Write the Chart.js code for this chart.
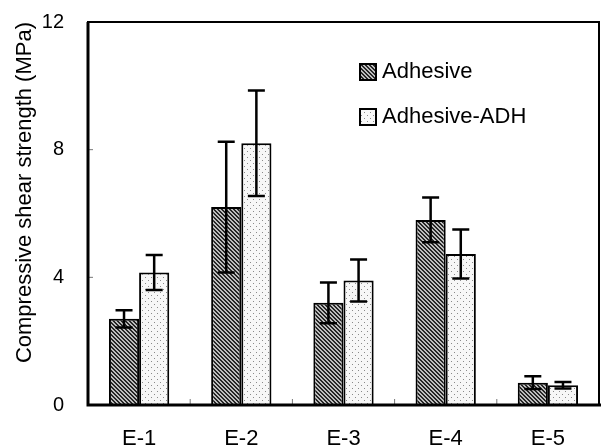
<!DOCTYPE html>
<html>
<head>
<meta charset="utf-8">
<script src="https://cdn.jsdelivr.net/npm/chart.js@4/dist/chart.umd.min.js"></script>
<style>
  html, body { margin: 0; padding: 0; background: #fff; }
  #wrap { width: 601px; height: 447px; }
</style>
</head>
<body>
<div id="wrap"><canvas id="chart"></canvas></div>
<script>
const categories = ['E-1', 'E-2', 'E-3', 'E-4', 'E-5'];
const adhesive = [2.7, 6.2, 3.2, 5.8, 0.7];
const adhesiveErr = [0.27, 2.05, 0.64, 0.7, 0.2];
const adhesiveAdh = [4.15, 8.2, 3.9, 4.73, 0.62];
const adhesiveAdhErr = [0.55, 1.65, 0.66, 0.77, 0.1];
const yMin = 0, yMax = 12, yStep = 4;

const FONT = '"Liberation Sans", Arial, sans-serif';

// hatch pattern for Adhesive
function hatchPattern() {
  const c = document.createElement('canvas');
  c.width = 4; c.height = 4;
  const g = c.getContext('2d');
  g.fillStyle = '#bdbdbd';
  g.fillRect(0, 0, 4, 4);
  g.fillStyle = '#262626';
  for (let x = 0; x < 4; x++) {
    for (let y = 0; y < 4; y++) {
      const d = ((x - y) % 4 + 4) % 4;
      if (d === 0 || d === 1) g.fillRect(x, y, 1, 1);
    }
  }
  return g.createPattern(c, 'repeat');
}

// dotted pattern for Adhesive-ADH
function dotPattern() {
  const c = document.createElement('canvas');
  c.width = 6; c.height = 6;
  const g = c.getContext('2d');
  g.fillStyle = '#f7f7f7';
  g.fillRect(0, 0, 6, 6);
  g.fillStyle = '#8a8a8a';
  g.fillRect(1, 1, 1, 1);
  g.fillRect(4, 4, 1, 1);
  return g.createPattern(c, 'repeat');
}

const errors = [adhesiveErr, adhesiveAdhErr];

const errorBars = {
  id: 'errorBars',
  afterDatasetsDraw(chart) {
    const ctx = chart.ctx;
    const y = chart.scales.y;
    ctx.save();
    ctx.strokeStyle = '#000';
    ctx.lineWidth = 2.5;
    chart.data.datasets.forEach((ds, di) => {
      const meta = chart.getDatasetMeta(di);
      meta.data.forEach((bar, i) => {
        const v = ds.data[i], e = errors[di][i];
        const top = y.getPixelForValue(v + e);
        const bot = y.getPixelForValue(v - e);
        ctx.beginPath();
        ctx.moveTo(bar.x, top); ctx.lineTo(bar.x, bot);
        ctx.moveTo(bar.x - 8.5, top); ctx.lineTo(bar.x + 8.5, top);
        ctx.moveTo(bar.x - 8.5, bot); ctx.lineTo(bar.x + 8.5, bot);
        ctx.stroke();
      });
    });
    ctx.restore();
  }
};

const frame = {
  id: 'frame',
  afterDraw(chart) {
    const { ctx, chartArea: a, scales } = chart;
    ctx.save();
    // inward ticks
    ctx.strokeStyle = '#777';
    ctx.lineWidth = 1;
    ctx.beginPath();
    for (let v = yMin + yStep; v < yMax; v += yStep) {
      const py = scales.y.getPixelForValue(v);
      ctx.moveTo(a.left, py); ctx.lineTo(a.left + 5, py);
    }
    for (let i = 0; i < categories.length - 1; i++) {
      const px = (scales.x.getPixelForValue(i) + scales.x.getPixelForValue(i + 1)) / 2;
      ctx.moveTo(px, a.bottom); ctx.lineTo(px, a.bottom - 6);
    }
    ctx.stroke();
    // frame
    ctx.strokeStyle = '#000';
    ctx.lineWidth = 2;
    ctx.strokeRect(a.left, a.top, a.right - a.left, a.bottom - a.top);
    ctx.lineWidth = 3;
    ctx.beginPath();
    ctx.moveTo(a.left, a.top); ctx.lineTo(a.left, a.bottom); ctx.lineTo(a.right + 2, a.bottom);
    ctx.stroke();
    // legend
    ctx.font = '22px ' + FONT;
    ctx.textBaseline = 'middle';
    chart.data.datasets.forEach((ds, i) => {
      const bx = a.left + 272, by = a.top + 42 + i * 45;
      ctx.fillStyle = ds.backgroundColor;
      ctx.fillRect(bx, by, 16, 16);
      ctx.lineWidth = 2;
      ctx.strokeStyle = '#000';
      ctx.strokeRect(bx, by, 16, 16);
      ctx.fillStyle = '#000';
      ctx.fillText(ds.label, bx + 22, by + 8);
    });
    ctx.restore();
  }
};

new Chart(document.getElementById('chart'), {
  type: 'bar',
  data: {
    labels: categories,
    datasets: [
      {
        label: 'Adhesive',
        data: adhesive,
        backgroundColor: hatchPattern(),
        borderColor: '#000',
        borderWidth: 2
      },
      {
        label: 'Adhesive-ADH',
        data: adhesiveAdh,
        backgroundColor: dotPattern(),
        borderColor: '#000',
        borderWidth: 2
      }
    ]
  },
  options: {
    responsive: true,
    maintainAspectRatio: false,
    animation: false,
    categoryPercentage: 0.59,
    barPercentage: 1,
    layout: { padding: { top: 22, right: 2, left: 0, bottom: 0 } },
    plugins: {
      legend: { display: false },
      tooltip: { enabled: false }
    },
    scales: {
      x: {
        grid: { display: false, drawTicks: false },
        border: { display: false },
        ticks: { color: '#000', font: { family: FONT, size: 22 }, padding: 21 },
        afterFit(scale) { scale.height = 42; }
      },
      y: {
        min: yMin,
        max: yMax,
        grid: { display: false, drawTicks: false },
        border: { display: false },
        ticks: { stepSize: yStep, color: '#000', font: { family: FONT, size: 20 }, padding: 24 },
        title: {
          display: true,
          text: 'Compressive shear strength (MPa)',
          align: 'end',
          color: '#000',
          font: { family: FONT, size: 22 },
          padding: { top: 12, bottom: 0 }
        },
        afterFit(scale) {
          scale.width = 88;
          scale.paddingTop = 0;
          scale.paddingBottom = 0;
        }
      }
    }
  },
  plugins: [errorBars, frame]
});
</script>
</body>
</html>
